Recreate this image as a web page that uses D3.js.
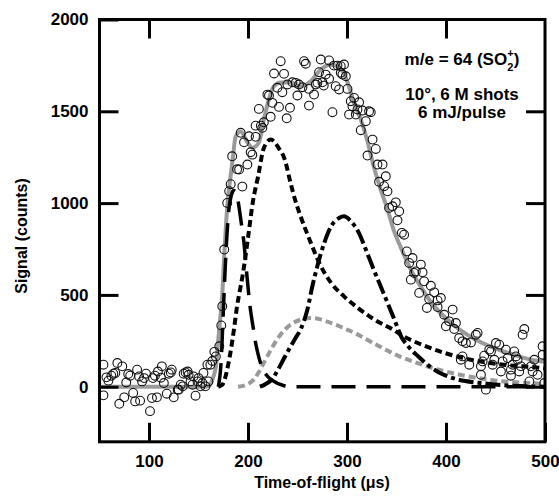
<!DOCTYPE html>
<html>
<head>
<meta charset="utf-8">
<script src="https://cdn.jsdelivr.net/npm/d3@7"></script>
<style>
  html, body { margin: 0; padding: 0; background: #fff; }
  svg text { font-family: "Liberation Sans", Arial, sans-serif; font-weight: bold; fill: #000; }
</style>
</head>
<body>
<svg id="chart" width="559" height="500"></svg>
<script>
// Axis ticks
const xTickValues = [100, 200, 300, 400, 500];
const yTickValues = [0, 500, 1000, 1500, 2000];

// Measured time-of-flight signal (µs, counts)
const pointTime = [54,54,57,59,62,64,66,68,70,73,75,77,79,81,84,86,88,90,91,93,95,97,101,103,104,106,108,109,112,113,115,118,120,122,123,125,129,130,132,134,135,137,139,140,142,144,145,147,149,150,152,154,155,157,159,160,162,164,166,167.5,171,173,174,176,
  179,181,182.5,184,189,191,194.3,192.6,196,199.4,201,202.7,204.4,207.7,207.7,211,213,214.5,216,219.6,221.2,222.9,224.6,226.3,229.7,231.3,233,234.7,236.4,239.1,239.8,242.4,244.9,248.2,249.9,251.5,255,256.6,258.3,261.6,261.6,266.7,268.4,270.1,271.8,273.5,275.2,276.5,278.5,281.9,281.9,285.3,286.9,288.6,290.4,292,293.7,293.7,295.4,297,298.8,300.5,302.1,303.8,305.5,307.2,308.9,310.6,312.2,313.9,315.6,319,320.7,322.3,324,325.8,329.1,330.8,332.4,335.9,337.5,339.2,340.9,342.5,346,349.3,351,352.7,355.4,357.7,360.4,362.8,364.5,366.2,367.8,369.5,372.9,374.6,376.3,377.9,380.7,383,384.7,388.1,391.5,391.5,394.8,398.2,399.9,403.2,406.7,408.3,410,413.3,415,416.7,416.7,420.1,423.5,425.2,430.2,431.9,435.3,435.3,437,438.6,440.3,443.7,445.4,447.1,448.8,450.4,453.8,455.5,457.2,460.5,462.3,465.6,465.6,467.3,468.9,470.6,472.3,474,475.7,477.4,479.1,484.2,485.8,487.5,489.2,492.5,497.6,497.6,499.3];
const pointSignal = [120,-47,51,33,60,71,75,129,-93,111,-58,23,69,60,-34,-80,93,56,-76,29,47,71,-133,-62,47,60,-58,83,49,111,20,-38,71,78,93,-58,-16,-16,11,2,71,78,83,65,29,11,56,-49,29,47,2,20,75,2,120,29,120,140,190,165,220,334,438,747,
  1001,1065,1103,1255,1184,1183,1090,1383,1331,1210,1364,1277,1264,1422,1361,1513,1422,1410,1440,1591,1586,1470,1546,1706,1628,1524,1773,1604,1704,1462,1646,1519,1658,1655,1586,1646,1631,1773,1759,1622,1531,1591,1646,1655,1713,1782,1658,1640,1700,1777,1677,1495,1749,1637,1749,1619,1746,1710,1700,1755,1691,1622,1482,1555,1528,1573,1482,1510,1549,1397,1504,1446,1259,1500,1495,1346,1295,1210,1116,1210,1092,1146,1064,974,983,1004,906,955,838,828,737,674,583,701,620,628,511,665,623,574,429,478,550,514,470,434,483,392,329,356,420,314,347,265,147,247,165,238,120,241,283,293,111,65,138,169,-16,202,192,120,147,238,229,83,138,202,156,93,60,120,192,165,147,83,111,283,314,29,111,83,147,65,220,174,20];

// Total fit (gray solid)
const fitTime = [50,157,161,164,168,170,172,174,176,178,180,182.5,184.5,187.5,192.5,199.5,204.5,211,216,221,226,233,243,253,263,273.5,283.5,290.5,296.5,302,307,314,321,327,334,341,347,354,364.5,374.5,384.5,405,425,445,468.5,486,500];
const fitSignal = [0,0,5,38,131,256,376,500,720,900,1040,1150,1237,1362,1390,1330,1302,1330,1455,1564,1635,1657,1657,1635,1662,1728,1755,1744,1711,1635,1548,1455,1330,1199,1074,965,856,763,638,545,463,349,272,218,174,147,136];

// Fast component (long dashes)
const fastTime = [170,173,175,177,179,181,183,185.5,188,190,193,196,199,202,205,208,211,215,220,226,235,245,500];
const fastSignal = [0,150,400,650,850,980,1040,1068,1060,1010,900,780,600,440,330,230,160,95,55,30,8,0,0];

// Second component (short black dashes)
const shortTime = [170,174,177,180,183,186,189,192,195,200,205,210,216,223,231,237,243,248,253,263,272,284,297,311,327,348,357,375,398,425,458,493,500];
const shortSignal = [0,10,50,120,210,320,440,530,620,810,1010,1140,1300,1346,1300,1240,1110,1010,930,790,674,565,492,429,368,306,275,230,185,147,120,104,100];

// Slow component (dash-dot)
const slowTime = [212,218,225,230,235,241,248,253,260,265,270,277,284,292,297,304,312,319,327,334,341,349,355,361,366,372,378,385,392,400,410,435,466,500];
const slowSignal = [0,15,45,90,140,200,265,311,420,547,656,783,874,919,928,901,838,747,638,547,456,350,270,225,195,165,135,105,80,60,42,20,6,0];

// Intermediate component (gray dashes)
const midTime = [190,198,206,211,216,223,231,238,245,255,264,272,278,285,293,300,309,314,324,339,354,370,385,405,425,450,476,500];
const midSignal = [0,10,40,80,130,200,270,315,345,368,374,368,358,345,328,311,290,275,245,202,163,131,104,76,54,33,22,16];

const svg = d3.select("#chart");
const x = d3.scaleLinear().domain([50, 500]).range([99.5, 545]);
const y = d3.scaleLinear().domain([-300, 2000]).range([441.8, 19.5]);

const line = (ts, vs) => d3.line()
  .x(i => x(ts[i]))
  .y(i => y(vs[i]))
  .curve(d3.curveMonotoneX)(d3.range(ts.length));

const plot = svg.append("g");
plot.append("clipPath").attr("id", "clip")
  .append("rect").attr("x", x(50)).attr("y", y(2000)).attr("width", x(500) - x(50)).attr("height", y(-300) - y(2000));
const g = plot.append("g").attr("clip-path", "url(#clip)");

// total fit
g.append("path").attr("d", line(fitTime, fitSignal))
  .attr("fill", "none").attr("stroke", "#9a9a9a").attr("stroke-width", 4);

const comps = [
  { t: midTime, v: midSignal, color: "#9a9a9a", dash: "7,4", w: 4 },
  { t: fastTime, v: fastSignal, color: "#000", dash: "24,11", w: 3.5 },
  { t: slowTime, v: slowSignal, color: "#000", dash: "15,4,4,4", w: 4 },
  { t: shortTime, v: shortSignal, color: "#000", dash: "7,4", w: 4 }
];
comps.forEach(c => {
  g.append("path").attr("d", line(c.t, c.v))
    .attr("fill", "none").attr("stroke", c.color)
    .attr("stroke-width", c.w).attr("stroke-dasharray", c.dash);
});

// data points
g.append("g").selectAll("circle").data(d3.range(pointTime.length)).join("circle")
  .attr("cx", i => x(pointTime[i]))
  .attr("cy", i => y(pointSignal[i]))
  .attr("r", 4.4)
  .attr("fill", "none").attr("stroke", "#111").attr("stroke-width", 1.1);

// axes with inward ticks
const tickLen = -19;
const styleAxis = sel => {
  sel.select(".domain").remove();
  sel.selectAll(".tick line").attr("stroke", "#000").attr("stroke-width", 3);
  sel.selectAll(".tick text").style("font-size", "17px").attr("fill", "#000");
};
svg.append("g").attr("transform", `translate(0,${y(-300)})`)
  .call(d3.axisBottom(x).tickValues(xTickValues).tickSize(tickLen).tickPadding(13).tickFormat(d3.format("d")))
  .call(styleAxis);
svg.append("g").attr("transform", `translate(0,${y(2000)})`)
  .call(d3.axisTop(x).tickValues(xTickValues.slice(0, 4)).tickSize(tickLen).tickFormat(""))
  .call(styleAxis);
svg.append("g").attr("transform", `translate(${x(50)},0)`)
  .call(d3.axisLeft(y).tickValues(yTickValues).tickSize(tickLen).tickPadding(11).tickFormat(d3.format("d")))
  .call(styleAxis);
svg.append("g").attr("transform", `translate(${x(500)},0)`)
  .call(d3.axisRight(y).tickValues(yTickValues.slice(0, 4)).tickSize(tickLen).tickFormat(""))
  .call(styleAxis);

// frame
svg.append("rect")
  .attr("x", x(50)).attr("y", y(2000))
  .attr("width", x(500) - x(50)).attr("height", y(-300) - y(2000))
  .attr("fill", "none").attr("stroke", "#000").attr("stroke-width", 3);

// axis titles
svg.append("text").attr("x", 322).attr("y", 488).attr("text-anchor", "middle")
  .style("font-size", "16px").text("Time-of-flight (μs)");
svg.append("text").attr("transform", "translate(27,236) rotate(-90)").attr("text-anchor", "middle")
  .style("font-size", "16px").text("Signal (counts)");

// annotation
const ann = svg.append("text").attr("x", 462).attr("y", 65).attr("text-anchor", "middle").style("font-size", "17px");
ann.append("tspan").text("m/e = 64 (SO");
ann.append("tspan").attr("dy", 6).style("font-size", "11px").text("2");
ann.append("tspan").attr("dx", -6).attr("dy", -14).style("font-size", "11px").text("+");
ann.append("tspan").attr("dy", 8).text(")");
svg.append("text").attr("x", 462).attr("y", 100).attr("text-anchor", "middle")
  .style("font-size", "17px").text("10°, 6 M shots");
svg.append("text").attr("x", 462).attr("y", 118).attr("text-anchor", "middle")
  .style("font-size", "17px").text("6 mJ/pulse");
</script>
</body>
</html>
